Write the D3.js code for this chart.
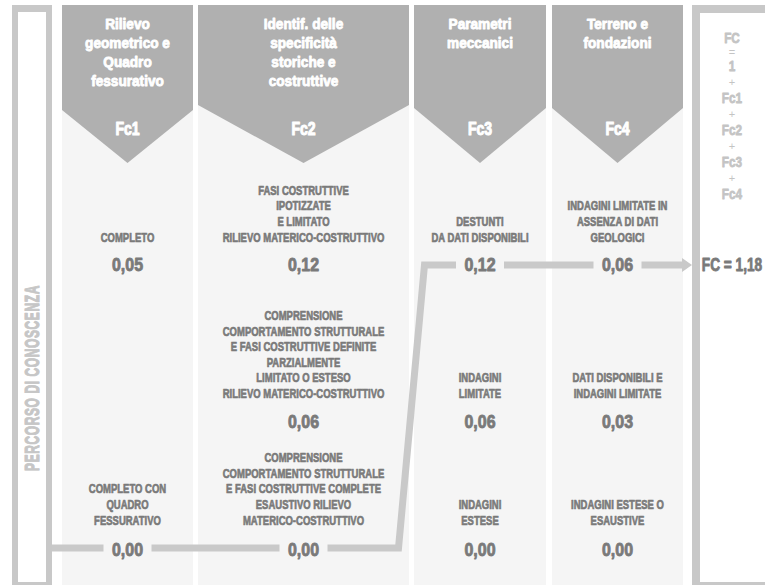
<!DOCTYPE html>
<html><head><meta charset="utf-8">
<script src="https://cdn.jsdelivr.net/npm/d3@7"></script>
<style>
html,body{margin:0;padding:0;background:#fff;}
svg{display:block;font-family:"Liberation Sans",Arial,sans-serif;font-weight:bold;}
</style></head>
<body><svg id="c" width="765" height="587"></svg>
<script>
// ---- data ----
const categories = ["Fc1", "Fc2", "Fc3", "Fc4"];
const headers = [
  ["Rilievo", "geometrico e", "Quadro", "fessurativo"],
  ["Identif. delle", "specificità", "storiche e", "costruttive"],
  ["Parametri", "meccanici"],
  ["Terreno e", "fondazioni"]
];
const levels = ["alto", "medio", "basso"];
const descriptions = [
  [["COMPLETO"], null, ["COMPLETO CON", "QUADRO", "FESSURATIVO"]],
  [["FASI COSTRUTTIVE", "IPOTIZZATE", "E LIMITATO", "RILIEVO MATERICO-COSTRUTTIVO"],
   ["COMPRENSIONE", "COMPORTAMENTO  STRUTTURALE", "E FASI COSTRUTTIVE DEFINITE", "PARZIALMENTE", "LIMITATO O ESTESO", "RILIEVO MATERICO-COSTRUTTIVO"],
   ["COMPRENSIONE", "COMPORTAMENTO STRUTTURALE", "E FASI COSTRUTTIVE COMPLETE", "ESAUSTIVO RILIEVO", "MATERICO-COSTRUTTIVO"]],
  [["DESTUNTI", "DA DATI DISPONIBILI"], ["INDAGINI", "LIMITATE"], ["INDAGINI", "ESTESE"]],
  [["INDAGINI LIMITATE IN", "ASSENZA DI DATI", "GEOLOGICI"], ["DATI DISPONIBILI E", "INDAGINI LIMITATE"], ["INDAGINI ESTESE O", "ESAUSTIVE"]]
];
const values = [
  [0.05, null, 0.00],
  [0.12, 0.06, 0.00],
  [0.12, 0.06, 0.00],
  [0.06, 0.03, 0.00]
];
const selectedLevel = [2, 2, 0, 0];
const fcBase = 1;
const sideLabel = "PERCORSO DI CONOSCENZA";
const formulaItems = ["FC", "=", "1", "+", "Fc1", "+", "Fc2", "+", "Fc3", "+", "Fc4"];

// ---- layout ----
const svg = d3.select("#c");
const colEdges = [[62, 193], [198, 409], [414, 546], [552, 683]];
const sideY = [110, 105, 108, 108];
const x0 = d3.scaleOrdinal().domain(categories).range(colEdges.map(d => d[0]));
const x1 = d3.scaleOrdinal().domain(categories).range(colEdges.map(d => d[1]));
const xc = c => (x0(c) + x1(c)) / 2;
const y = d3.scaleOrdinal().domain(levels).range([265, 421.5, 548]);
const fmt = v => d3.format(".2f")(v).replace(".", ",");

const C_HEAD = "#b0b0b0", C_BG = "#f5f5f5", C_TXT = "#7a7a7a", C_LINE = "#c9c9c9", C_FRAME = "#c8c8c8";

function txt(g, x, yy, s, size, sx, fill, sw, weight) {
  return g.append("text")
    .attr("transform", `translate(${x},${yy}) scale(${sx},1)`)
    .attr("text-anchor", "middle")
    .attr("dominant-baseline", "central")
    .attr("font-size", size)
    .attr("font-weight", weight || "bold")
    .attr("fill", fill)
    .attr("stroke", sw ? fill : "none")
    .attr("stroke-width", sw || 0)
    .attr("stroke-linejoin", "round")
    .text(s);
}

// left frame
svg.append("rect").attr("x", 12).attr("y", 5).attr("width", 40).attr("height", 580).attr("fill", C_FRAME);
svg.append("rect").attr("x", 18).attr("y", 12).attr("width", 28).attr("height", 570).attr("fill", "#fff");
txt(svg, 0, 0, sideLabel, 20, 1, "#c6c6c6", 1.1)
  .attr("transform", "translate(32,378) rotate(-90) scale(0.6,1)")
  .attr("letter-spacing", 1);

// right frame
svg.append("rect").attr("x", 692).attr("y", 5).attr("width", 120).attr("height", 580).attr("fill", C_FRAME);
svg.append("rect").attr("x", 700).attr("y", 13).attr("width", 120).attr("height", 569).attr("fill", "#fff");
const fy = [38, 52, 66, 82, 98, 114, 130, 146, 162, 178, 194];
formulaItems.forEach((s, i) => {
  const sym = (s === "+" || s === "=");
  txt(svg, 732, fy[i], s, sym ? 10 : 15.5, sym ? 1.1 : 0.76, "#c4c4c4", sym ? 0 : 0.8, sym ? "normal" : "bold");
});

// columns
categories.forEach((c, i) => {
  const g = svg.append("g");
  const a = x0(c), b = x1(c), m = xc(c);
  g.append("rect").attr("x", a).attr("y", 5).attr("width", b - a).attr("height", 580).attr("fill", C_BG);
  g.append("path").attr("d", d3.line()([[a, 5], [b, 5], [b, sideY[i]], [m, 163], [a, sideY[i]]]) + "Z").attr("fill", C_HEAD);
  headers[i].forEach((h, k) => txt(g, m, 23.5 + k * 19, h, 15.5, 0.88, "#fff", 0.9));
  txt(g, m, 128.5, c, 19, 0.74, "#fff", 1.1);
  levels.forEach((lv, r) => {
    const d = descriptions[i][r];
    if (d) {
      const n = d.length;
      d.forEach((line, k) => txt(g, m, y(lv) - 28 - (n - 1 - k) * 15.6, line, 12.5, 0.76, C_TXT, 0.65));
    }
    const v = values[i][r];
    if (v !== null) txt(g, m, y(lv) + (r === 2 ? 2 : 0), fmt(v), 19, 0.84, C_TXT, 0.9);
  });
});

// knowledge path
const gap = 24;
const pts = categories.map((c, i) => [xc(c), y(levels[selectedLevel[i]])]);
const segs = [];
let start = [52, pts[0][1]];
pts.forEach((p, i) => {
  const seg = [start];
  if (i > 0 && pts[i - 1][1] !== p[1]) {
    const bx = (x1(categories[i - 1]) + x0(categories[i])) / 2;
    seg.push([bx - 13, pts[i - 1][1]]);
    seg.push([bx + 13, p[1]]);
  }
  seg.push([p[0] - gap, p[1]]);
  segs.push(seg);
  start = [p[0] + gap, p[1]];
});
const endX = 682;
segs.push([start, [endX, start[1]]]);
const line = d3.line();
svg.append("g").selectAll("path").data(segs).join("path")
  .attr("d", d => line(d)).attr("fill", "none").attr("stroke", C_LINE)
  .attr("stroke-width", 7).attr("stroke-linejoin", "miter");
svg.append("path").attr("d", line([[endX, start[1] - 7], [692, start[1]], [endX, start[1] + 7]]) + "Z").attr("fill", C_LINE);

// total
const total = fcBase + selectedLevel.reduce((s, r, i) => s + values[i][r], 0);
txt(svg, 732, 265, "FC = " + fmt(total), 19, 0.72, C_TXT, 0.9);
</script></body></html>
